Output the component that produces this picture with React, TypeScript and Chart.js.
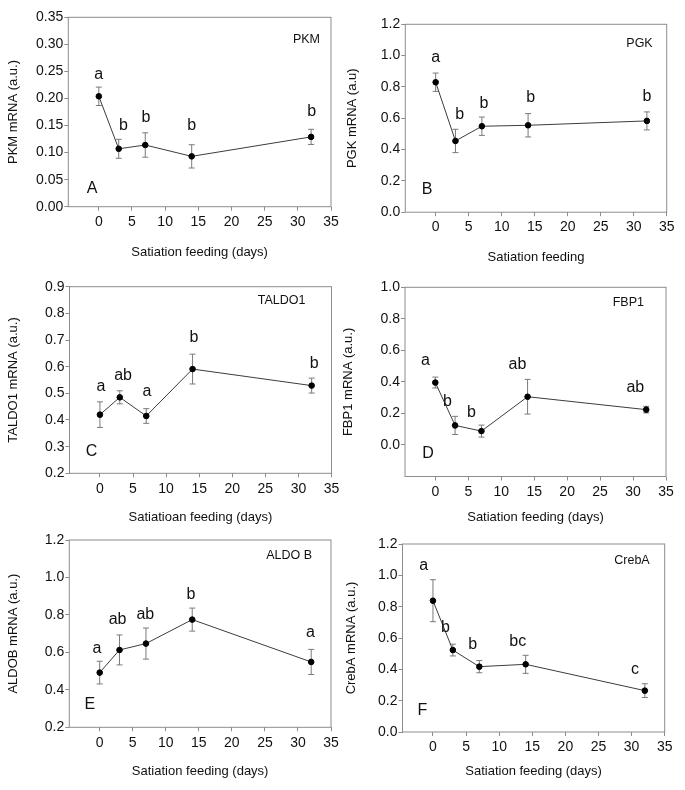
import React, { useEffect, useRef } from "react";
import { Chart, registerables } from "chart.js";

Chart.register(...registerables);

const FONT = "'Liberation Sans', Arial, Helvetica, sans-serif";

// Shared x data (days of satiation feeding) and axis ticks
const days = [0, 3, 7, 14, 32];
const dayTicks = [0, 5, 10, 15, 20, 25, 30, 35];

// A – PKM
const pkmMean = [0.204, 0.107, 0.114, 0.093, 0.129];
const pkmErr = [0.017, 0.0175, 0.0225, 0.0215, 0.014];
const pkmLetters = ["a", "b", "b", "b", "b"];
const pkmLetterX = [0, 3.7, 7.1, 14, 32.1];
const pkmLetterY = [0.244, 0.149, 0.164, 0.149, 0.176];
const pkmTicks = [0, 0.05, 0.1, 0.15, 0.2, 0.25, 0.3, 0.35];

// B – PGK
const pgkMean = [0.83, 0.455, 0.549, 0.555, 0.583];
const pgkErr = [0.0585, 0.0745, 0.0585, 0.0745, 0.0575];
const pgkLetters = ["a", "b", "b", "b", "b"];
const pgkLetterX = [0, 3.65, 7.3, 14.4, 32];
const pgkLetterY = [0.987, 0.621, 0.696, 0.732, 0.736];
const pgkTicks = [0, 0.2, 0.4, 0.6, 0.8, 1.0, 1.2];

// C – TALDO1
const taldoMean = [0.42, 0.485, 0.415, 0.591, 0.529];
const taldoErr = [0.048, 0.0245, 0.0275, 0.056, 0.028];
const taldoLetters = ["a", "ab", "a", "b", "b"];
const taldoLetterX = [0.15, 3.5, 7.1, 14.2, 32.4];
const taldoLetterY = [0.525, 0.5675, 0.506, 0.71, 0.6125];
const taldoTicks = [0.2, 0.3, 0.4, 0.5, 0.6, 0.7, 0.8, 0.9];

// D – FBP1
const fbpMean = [0.396, 0.124, 0.088, 0.306, 0.224];
const fbpErr = [0.0345, 0.0575, 0.038, 0.11, 0.021];
const fbpLetters = ["a", "b", "b", "ab", "ab"];
const fbpLetterX = [-1.5, 1.85, 5.5, 12.45, 30.35];
const fbpLetterY = [0.538, 0.276, 0.207, 0.507, 0.364];
const fbpTicks = [0, 0.2, 0.4, 0.6, 0.8, 1.0];

// E – ALDOB
const aldoMean = [0.492, 0.613, 0.647, 0.775, 0.549];
const aldoErr = [0.0605, 0.08, 0.083, 0.0615, 0.067];
const aldoLetters = ["a", "ab", "ab", "b", "a"];
const aldoLetterX = [-0.4, 2.7, 6.9, 13.8, 31.9];
const aldoLetterY = [0.622, 0.775, 0.803, 0.906, 0.707];
const aldoTicks = [0.2, 0.4, 0.6, 0.8, 1.0, 1.2];

// F – CrebA
const crebMean = [0.838, 0.523, 0.417, 0.432, 0.264];
const crebErr = [0.134, 0.0375, 0.039, 0.0575, 0.044];
const crebLetters = ["a", "b", "b", "bc", "c"];
const crebLetterX = [-1.4, 1.9, 6.0, 12.8, 30.5];
const crebLetterY = [1.062, 0.666, 0.56, 0.577, 0.4];
const crebTicks = [0, 0.2, 0.4, 0.6, 0.8, 1.0, 1.2];

type PanelDef = {
  tag: string;
  gene: string;
  yTitle: string;
  xTitle: string;
  mean: number[];
  err: number[];
  letters: string[];
  letterX: number[];
  letterY: number[];
  yMin: number;
  yMax: number;
  yTicks: number[];
  dec: number;
  box: [number, number, number, number];
  yTitleX: number;
  xTitleDy: number;
  geneOff: [number, number];
  tagOff: [number, number];
};

const panels: PanelDef[] = [
  {
    tag: "A", gene: "PKM", yTitle: "PKM mRNA (a.u.)", xTitle: "Satiation feeding (days)",
    mean: pkmMean, err: pkmErr, letters: pkmLetters, letterX: pkmLetterX, letterY: pkmLetterY,
    yMin: 0, yMax: 0.35, yTicks: pkmTicks, dec: 2,
    box: [68.3, 17.3, 331, 206.7], yTitleX: 13.3, xTitleDy: 45, geneOff: [11, 22], tagOff: [23.7, 18],
  },
  {
    tag: "B", gene: "PGK", yTitle: "PGK mRNA (a.u)", xTitle: "Satiation feeding",
    mean: pgkMean, err: pgkErr, letters: pgkLetters, letterX: pgkLetterX, letterY: pgkLetterY,
    yMin: 0, yMax: 1.2, yTicks: pgkTicks, dec: 1,
    box: [405.3, 24.3, 666.7, 212.2], yTitleX: 353, xTitleDy: 44.5, geneOff: [14, 19], tagOff: [21.7, 22.7],
  },
  {
    tag: "C", gene: "TALDO1", yTitle: "TALDO1 mRNA (a.u.)", xTitle: "Satiatioan feeding (days)",
    mean: taldoMean, err: taldoErr, letters: taldoLetters, letterX: taldoLetterX, letterY: taldoLetterY,
    yMin: 0.2, yMax: 0.9, yTicks: taldoTicks, dec: 1,
    box: [69.5, 286.7, 331.5, 473.3], yTitleX: 13.3, xTitleDy: 44, geneOff: [26, 14], tagOff: [22, 21.6],
  },
  {
    tag: "D", gene: "FBP1", yTitle: "FBP1 mRNA (a.u.)", xTitle: "Satiation feeding (days)",
    mean: fbpMean, err: fbpErr, letters: fbpLetters, letterX: fbpLetterX, letterY: fbpLetterY,
    yMin: -0.2, yMax: 1.0, yTicks: fbpTicks, dec: 1,
    box: [405, 287.3, 666, 476.5], yTitleX: 348.3, xTitleDy: 40.5, geneOff: [22, 15], tagOff: [23, 23],
  },
  {
    tag: "E", gene: "ALDO B", yTitle: "ALDOB mRNA (a.u.)", xTitle: "Satiation feeding (days)",
    mean: aldoMean, err: aldoErr, letters: aldoLetters, letterX: aldoLetterX, letterY: aldoLetterY,
    yMin: 0.2, yMax: 1.2, yTicks: aldoTicks, dec: 1,
    box: [69.3, 540, 331, 727.3], yTitleX: 13.3, xTitleDy: 44, geneOff: [19, 16], tagOff: [20.5, 22.3],
  },
  {
    tag: "F", gene: "CrebA", yTitle: "CrebA mRNA (a.u.)", xTitle: "Satiation feeding (days)",
    mean: crebMean, err: crebErr, letters: crebLetters, letterX: crebLetterX, letterY: crebLetterY,
    yMin: 0, yMax: 1.2, yTicks: crebTicks, dec: 1,
    box: [402.5, 544, 664.7, 732], yTitleX: 351.7, xTitleDy: 39.5, geneOff: [15, 17], tagOff: [19.8, 21.3],
  },
];

const TITLE_SIZE = 13;
const TICK_SIZE = 14;
const HALF_LINE = (TITLE_SIZE * 1.2) / 2;
const FRAME = "#8c8c8c";
const TEXT = "#111111";

function Panel({ p }: { p: PanelDef }) {
  const ref = useRef<HTMLCanvasElement>(null);
  const [L, T, R, B] = p.box;
  const cx = Math.round(p.yTitleX - HALF_LINE - 3);
  const cy = Math.round(T - 12);
  const cw = Math.round(R + 14 - cx);
  const ch = Math.round(B + p.xTitleDy + HALF_LINE - cy);

  useEffect(() => {
    const canvas = ref.current;
    if (!canvas) return;

    const decor = {
      id: "decor" + p.tag,
      beforeDatasetsDraw(chart: any) {
        const { ctx } = chart;
        const xs = chart.scales.x;
        const ys = chart.scales.y;
        ctx.save();
        ctx.strokeStyle = "#7a7a7a";
        ctx.lineWidth = 1;
        p.mean.forEach((m, i) => {
          const px = xs.getPixelForValue(days[i]);
          const yTop = ys.getPixelForValue(m + p.err[i]);
          const yBot = ys.getPixelForValue(m - p.err[i]);
          ctx.beginPath();
          ctx.moveTo(px, yTop);
          ctx.lineTo(px, yBot);
          ctx.moveTo(px - 3, yTop);
          ctx.lineTo(px + 3, yTop);
          ctx.moveTo(px - 3, yBot);
          ctx.lineTo(px + 3, yBot);
          ctx.stroke();
        });
        ctx.restore();
      },
      afterDatasetsDraw(chart: any) {
        const { ctx, chartArea } = chart;
        const xs = chart.scales.x;
        const ys = chart.scales.y;
        ctx.save();
        ctx.strokeStyle = FRAME;
        ctx.lineWidth = 1;
        ctx.strokeRect(
          chartArea.left,
          chartArea.top,
          chartArea.right - chartArea.left,
          chartArea.bottom - chartArea.top
        );
        ctx.fillStyle = TEXT;
        ctx.textBaseline = "middle";
        ctx.textAlign = "center";
        ctx.font = `16px ${FONT}`;
        p.letters.forEach((t, i) => {
          ctx.fillText(t, xs.getPixelForValue(p.letterX[i]), ys.getPixelForValue(p.letterY[i]));
        });
        ctx.fillText(p.tag, chartArea.left + p.tagOff[0], chartArea.bottom - p.tagOff[1]);
        ctx.font = `12.5px ${FONT}`;
        ctx.textAlign = "right";
        ctx.fillText(p.gene, chartArea.right - p.geneOff[0], chartArea.top + p.geneOff[1]);
        ctx.restore();
      },
    };

    const chart = new Chart(canvas, {
      type: "line",
      data: {
        datasets: [
          {
            data: days.map((d, i) => ({ x: d, y: p.mean[i] })),
            borderColor: "#3c3c3c",
            borderWidth: 1,
            pointRadius: 2.8,
            pointBackgroundColor: "#000000",
            pointBorderColor: "#000000",
            pointBorderWidth: 1,
            tension: 0,
            fill: false,
          },
        ],
      },
      options: {
        animation: false,
        responsive: false,
        devicePixelRatio: 1,
        events: [],
        layout: { padding: { left: 0, top: T - cy, right: cx + cw - R, bottom: 0 } },
        plugins: { legend: { display: false }, tooltip: { enabled: false } },
        scales: {
          x: {
            type: "linear",
            min: -4.6,
            max: 35,
            afterBuildTicks: (s: any) => {
              s.ticks = dayTicks.map((v) => ({ value: v }));
            },
            afterFit: (s: any) => {
              s.height = cy + ch - B;
            },
            grid: { display: true, drawOnChartArea: false, drawTicks: true, tickLength: 4, color: FRAME },
            border: { display: false },
            ticks: {
              font: { family: FONT, size: TICK_SIZE },
              color: TEXT,
              padding: 3,
              maxRotation: 0,
              autoSkip: false,
              callback: (v: any) => String(v),
            },
            title: {
              display: true,
              text: p.xTitle,
              font: { family: FONT, size: TITLE_SIZE },
              color: TEXT,
              padding: { top: 0, bottom: 0 },
            },
          },
          y: {
            type: "linear",
            min: p.yMin,
            max: p.yMax,
            afterBuildTicks: (s: any) => {
              s.ticks = p.yTicks.map((v) => ({ value: v }));
            },
            afterFit: (s: any) => {
              s.width = L - cx;
            },
            grid: { display: true, drawOnChartArea: false, drawTicks: true, tickLength: 4, color: FRAME },
            border: { display: false },
            ticks: {
              font: { family: FONT, size: TICK_SIZE },
              color: TEXT,
              padding: 1,
              autoSkip: false,
              callback: (v: any) => Number(v).toFixed(p.dec),
            },
            title: {
              display: true,
              text: p.yTitle,
              font: { family: FONT, size: TITLE_SIZE },
              color: TEXT,
              padding: { top: 3, bottom: 0 },
            },
          },
        },
      },
      plugins: [decor],
    } as any);

    return () => chart.destroy();
  }, []);

  return (
    <canvas
      ref={ref}
      width={cw}
      height={ch}
      style={{ position: "absolute", left: cx, top: cy, width: cw, height: ch }}
    />
  );
}

export default function App() {
  return (
    <div
      style={{
        position: "absolute",
        left: 0,
        top: 0,
        width: 685,
        height: 790,
        background: "#ffffff",
        overflow: "hidden",
      }}
    >
      {panels.map((p) => (
        <Panel key={p.tag} p={p} />
      ))}
    </div>
  );
}
